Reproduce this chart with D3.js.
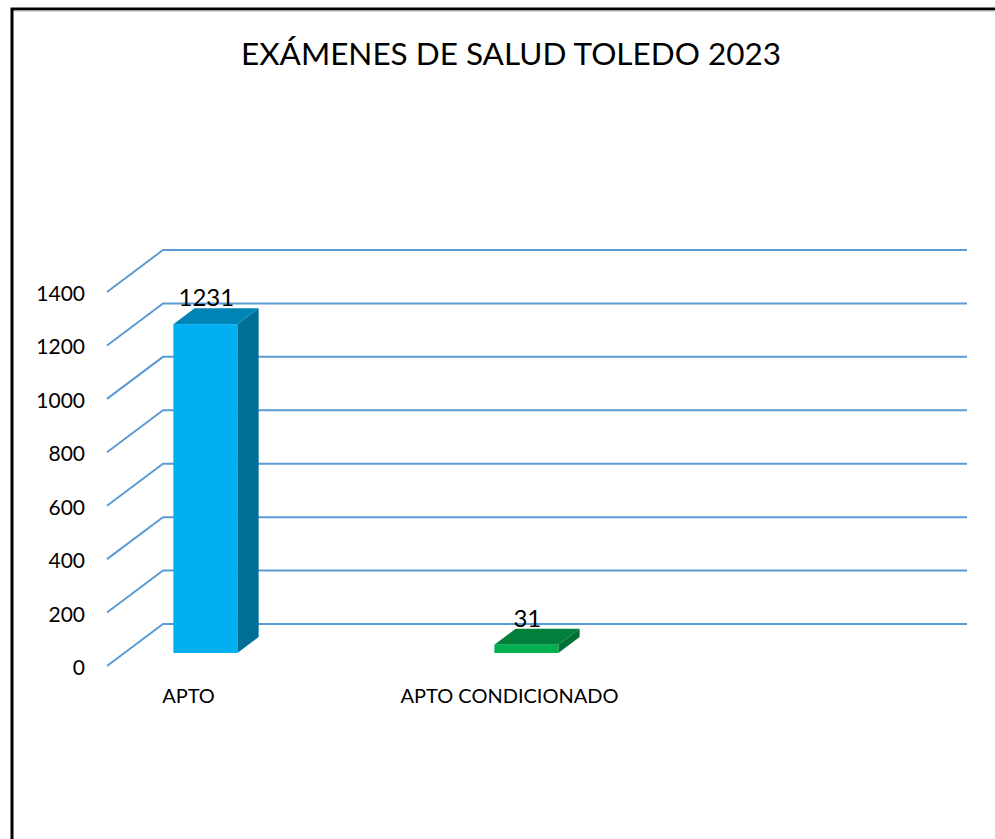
<!DOCTYPE html>
<html>
<head>
<meta charset="utf-8">
<script src="https://cdn.jsdelivr.net/npm/d3@7"></script>
<style>
	body { margin: 0; background: #fff; }
	text { font-family: Lato, "Open Sans", sans-serif; fill: #000; }
</style>
</head>
<body>
<script>
// chart data
var categories = ["APTO", "APTO CONDICIONADO"];
var values = [1231, 31];
var tickValues = [0, 200, 400, 600, 800, 1000, 1200, 1400];
var chartTitle = "EXÁMENES DE SALUD TOLEDO 2023";

var frontColors = ["#00B0F0", "#00B050"];
var topColors = ["#0083B5", "#00803A"];
var sideColors = ["#006F98", "#007034"];

function makeGraph() {
	var w = 995;
	var h = 839;

	// 3d look: the back wall sits up and right of the front plane
	var depthX = 56;
	var depthY = -42;
	var barFront = 0.31, barBack = 0.69;
	var barWidth = 64;

	var svg = d3.select("body")
		.append("svg")
		.attr("width", w)
		.attr("height", h);

	// outer frame (only top + left visible)
	svg.append("rect")
		.attr("x", 12)
		.attr("y", 9)
		.attr("width", 1100)
		.attr("height", 1000)
		.attr("fill", "none")
		.attr("stroke", "#000")
		.attr("stroke-width", 3);
	svg.append("line")
		.attr("x1", 14).attr("x2", w)
		.attr("y1", 11).attr("y2", 11)
		.attr("stroke", "#bbb")
		.attr("stroke-width", 1);

	// title
	svg.append("text")
		.attr("x", 511)
		.attr("y", 65)
		.attr("text-anchor", "middle")
		.style("font-size", "31.5px")
		.text(chartTitle);

	// y is measured on the front plane
	var yScale = d3.scaleLinear()
		.domain([0, 1400])
		.range([666, 292]);

	var xScale = d3.scalePoint()
		.domain(categories)
		.range([188, 509]);

	var frontLeft = 107;
	var backRight = 967;

	// gridlines: diagonal on the side wall, flat on the back wall
	svg.selectAll("path.grid")
		.data(tickValues)
		.enter()
		.append("path")
		.attr("class", "grid")
		.attr("fill", "none")
		.attr("stroke", "#5B9BD5")
		.attr("stroke-width", 2)
		.attr("d", function(d) {
			var y = yScale(d);
			return "M" + frontLeft + "," + y +
				"L" + (frontLeft + depthX) + "," + (y + depthY) +
				"L" + backRight + "," + (y + depthY);
		});

	var yAxis = d3.axisLeft(yScale)
		.tickValues(tickValues)
		.tickFormat(d3.format("d"))
		.tickSize(0)
		.tickPadding(22);

	var gy = svg.append("g")
		.attr("transform", "translate(" + frontLeft + ",0)")
		.call(yAxis);
	gy.select(".domain").remove();
	gy.selectAll("text")
		.style("font-size", "21px")
		.attr("dy", "0.36em")
		.attr("y", 1);

	var xAxis = d3.axisBottom(xScale)
		.tickSize(0)
		.tickPadding(23);

	var gx = svg.append("g")
		.attr("transform", "translate(0," + yScale(0) + ")")
		.call(xAxis);
	gx.select(".domain").remove();
	gx.selectAll("text")
		.style("font-size", "20px");

	// point on the bar at depth t (0 = front plane, 1 = back wall)
	function px(x, t) { return x + t * depthX; }
	function py(y, t) { return y + t * depthY; }

	var bars = svg.selectAll("g.bar")
		.data(values)
		.enter()
		.append("g")
		.attr("class", "bar");

	// right side face
	bars.append("path")
		.attr("fill", function(d, i) { return sideColors[i]; })
		.attr("d", function(d, i) {
			var xr = xScale(categories[i]) + barWidth / 2;
			var y0 = yScale(0), y1 = yScale(d);
			return "M" + px(xr, barFront) + "," + py(y0, barFront) +
				"L" + px(xr, barBack) + "," + py(y0, barBack) +
				"L" + px(xr, barBack) + "," + py(y1, barBack) +
				"L" + px(xr, barFront) + "," + py(y1, barFront) + "Z";
		});

	// top face
	bars.append("path")
		.attr("fill", function(d, i) { return topColors[i]; })
		.attr("d", function(d, i) {
			var xl = xScale(categories[i]) - barWidth / 2;
			var xr = xl + barWidth;
			var y1 = yScale(d);
			return "M" + px(xl, barFront) + "," + py(y1, barFront) +
				"L" + px(xr, barFront) + "," + py(y1, barFront) +
				"L" + px(xr, barBack) + "," + py(y1, barBack) +
				"L" + px(xl, barBack) + "," + py(y1, barBack) + "Z";
		});

	// front face
	bars.append("rect")
		.attr("fill", function(d, i) { return frontColors[i]; })
		.attr("x", function(d, i) { return px(xScale(categories[i]) - barWidth / 2, barFront); })
		.attr("y", function(d) { return py(yScale(d), barFront); })
		.attr("width", barWidth)
		.attr("height", function(d) { return yScale(0) - yScale(d); });

	// value labels
	bars.append("text")
		.attr("text-anchor", "middle")
		.style("font-size", "24px")
		.attr("x", function(d, i) { return px(xScale(categories[i]), barFront) + 1; })
		.attr("y", function(d) { return py(yScale(d), barFront) - 18; })
		.text(function(d) { return d; });
}

makeGraph();
</script>
</body>
</html>
